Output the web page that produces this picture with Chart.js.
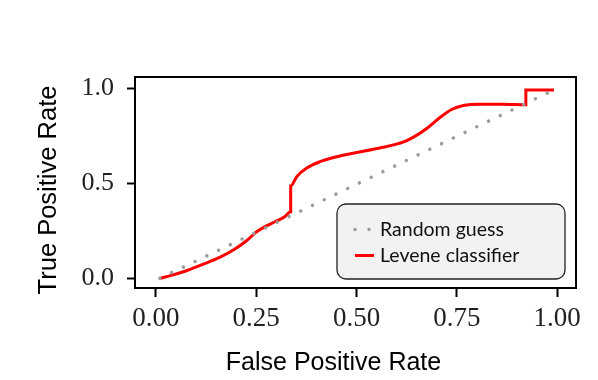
<!DOCTYPE html>
<html>
<head>
<meta charset="utf-8">
<script src="https://cdn.jsdelivr.net/npm/chart.js@4/dist/chart.umd.min.js"></script>
<style>
  html, body { margin: 0; padding: 0; background: #fff; }
  #wrap { width: 598px; height: 380px; }
</style>
</head>
<body>
<div id="wrap"><canvas id="c" width="598" height="380"></canvas></div>
<script>
// ---- data ----
const randomX = [0.01, 0.99];
const randomY = [0.0, 0.99];

const leveneX = [0.01, 0.043, 0.076, 0.118, 0.159, 0.193, 0.226, 0.251, 0.272, 0.297, 0.321, 0.336, 0.336, 0.351, 0.375, 0.409, 0.450, 0.492, 0.558, 0.616, 0.641, 0.675, 0.708, 0.737, 0.766, 0.807, 0.866, 0.922, 0.922, 0.992];
const leveneY = [0.0, 0.018, 0.040, 0.074, 0.110, 0.149, 0.198, 0.245, 0.272, 0.298, 0.324, 0.351, 0.486, 0.535, 0.579, 0.614, 0.640, 0.659, 0.686, 0.717, 0.742, 0.789, 0.847, 0.889, 0.910, 0.917, 0.917, 0.914, 0.991, 0.991];

const xTicks = [0.00, 0.25, 0.50, 0.75, 1.00];
const yTicks = [0.0, 0.5, 1.0];

const seriesLabels = ['Random guess', 'Levene classifier'];
const xTitle = 'False Positive Rate';
const yTitle = 'True Positive Rate';

const toPts = (xs, ys) => xs.map((x, i) => ({ x: x, y: ys[i] }));

const boxPlugin = {
  id: 'frameAndLegend',
  afterDraw(chart) {
    const { ctx, chartArea: a } = chart;
    ctx.save();
    // plot frame
    ctx.strokeStyle = '#000';
    ctx.lineWidth = 2;
    ctx.strokeRect(a.left, a.top, a.right - a.left, a.bottom - a.top);

    // axis titles
    ctx.fillStyle = '#000';
    ctx.textAlign = 'center';
    ctx.textBaseline = 'middle';
    ctx.font = '25px "Liberation Sans", Arial, sans-serif';
    ctx.fillText(xTitle, a.left + 198.5, a.bottom + 75);
    ctx.save();
    ctx.translate(a.left - 86.5, a.top + 113);
    ctx.rotate(-Math.PI / 2);
    ctx.font = '25.5px "Liberation Sans", Arial, sans-serif';
    ctx.fillText(yTitle, 0, 0);
    ctx.restore();

    // legend inside plot
    const w = 228, h = 75, r = 9;
    const x0 = a.right - 11 - w, y0 = a.bottom - 9 - h;
    ctx.beginPath();
    ctx.moveTo(x0 + r, y0);
    ctx.lineTo(x0 + w - r, y0);
    ctx.arcTo(x0 + w, y0, x0 + w, y0 + r, r);
    ctx.lineTo(x0 + w, y0 + h - r);
    ctx.arcTo(x0 + w, y0 + h, x0 + w - r, y0 + h, r);
    ctx.lineTo(x0 + r, y0 + h);
    ctx.arcTo(x0, y0 + h, x0, y0 + h - r, r);
    ctx.lineTo(x0, y0 + r);
    ctx.arcTo(x0, y0, x0 + r, y0, r);
    ctx.closePath();
    ctx.fillStyle = '#f2f2f2';
    ctx.fill();
    ctx.lineWidth = 1.3;
    ctx.strokeStyle = '#222';
    ctx.stroke();

    const ds = chart.data.datasets;
    const rows = [y0 + 25.5, y0 + 51.5];
    ds.forEach((d, i) => {
      const yy = rows[i];
      ctx.save();
      ctx.strokeStyle = d.borderColor;
      ctx.lineWidth = d.borderWidth;
      ctx.lineCap = d.borderCapStyle || 'butt';
      if (d.borderDash) ctx.setLineDash(d.legendDash || d.borderDash);
      ctx.beginPath();
      ctx.moveTo(x0 + 18, yy);
      ctx.lineTo(x0 + 37, yy);
      ctx.stroke();
      ctx.restore();
      ctx.fillStyle = '#111';
      ctx.font = '19.5px Lato, "Liberation Sans", sans-serif';
      ctx.textBaseline = 'middle';
      ctx.textAlign = 'left';
      ctx.fillText(d.label, x0 + 43, yy);
    });
    ctx.restore();
  }
};

new Chart(document.getElementById('c'), {
  type: 'line',
  data: {
    datasets: [
      {
        label: seriesLabels[0],
        data: toPts(randomX, randomY),
        borderColor: '#9a9a9a',
        borderWidth: 3.5,
        borderDash: [0.01, 13],
        legendDash: [0.01, 14],
        borderCapStyle: 'round',
        pointRadius: 0,
        fill: false,
        tension: 0
      },
      {
        label: seriesLabels[1],
        data: toPts(leveneX, leveneY),
        borderColor: '#ff0000',
        borderWidth: 3,
        pointRadius: 0,
        fill: false,
        cubicInterpolationMode: 'monotone'
      }
    ]
  },
  options: {
    responsive: false,
    animation: false,
    layout: { padding: { top: 77, right: 22, left: 0, bottom: 0 } },
    plugins: { legend: { display: false }, tooltip: { enabled: false } },
    scales: {
      x: {
        type: 'linear',
        min: -0.052,
        max: 1.047,
        afterFit(s) { s.height = 92; },
        afterBuildTicks(s) { s.ticks = xTicks.map(v => ({ value: v })); },
        border: { display: false },
        grid: { drawOnChartArea: false, drawTicks: true, tickLength: 9, tickColor: '#000', tickWidth: 2 },
        ticks: {
          padding: 6,
          color: '#222',
          font: { family: '"Liberation Serif", "DejaVu Serif", serif', size: 27 },
          maxRotation: 0,
          callback: v => v.toFixed(2)
        },
        title: { display: false }
      },
      y: {
        type: 'linear',
        min: -0.051,
        max: 1.06,
        afterFit(s) { s.width = 135; },
        afterBuildTicks(s) { s.ticks = yTicks.map(v => ({ value: v })); },
        border: { display: false },
        grid: { drawOnChartArea: false, drawTicks: true, tickLength: 8, tickColor: '#000', tickWidth: 2 },
        ticks: {
          padding: 13,
          color: '#222',
          font: { family: '"Liberation Serif", "DejaVu Serif", serif', size: 26 },
          callback: v => v.toFixed(1)
        },
        title: { display: false }
      }
    }
  },
  plugins: [boxPlugin]
});
</script>
</body>
</html>
